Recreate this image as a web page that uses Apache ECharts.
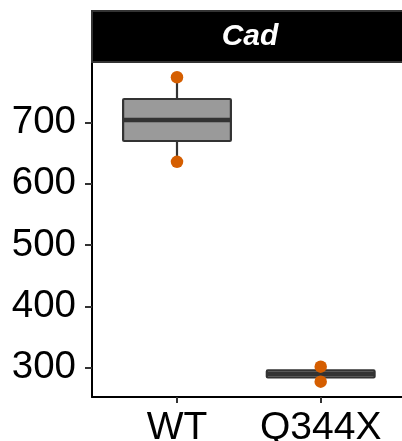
<!DOCTYPE html>
<html>
<head>
<meta charset="utf-8">
<script src="https://cdn.jsdelivr.net/npm/echarts@6/dist/echarts.min.js"></script>
<style>html,body{margin:0;padding:0;background:#fff;}#c{width:402px;height:441px;}</style>
</head>
<body>
<div id="c"></div>
<script>
var categories = ['WT', 'Q344X'];
// [min, Q1, median, Q3, max]
var boxStats = [
  [635.5, 669.5, 703.7, 738.0, 773.4],
  [277.2, 284.0, 289.6, 295.5, 301.6]
];
var pointValues = [
  [773.4, 635.5],
  [301.6, 277.2]
];
var yTicks = [300, 400, 500, 600, 700];
var panelTitle = 'Cad';

var FONT = 'Liberation Sans, Arial, Helvetica, sans-serif';
var chart = echarts.init(document.getElementById('c'), null, {renderer: 'canvas'});

var scatterData = [];
pointValues.forEach(function (vals, i) {
  vals.forEach(function (v) { scatterData.push([categories[i], v]); });
});
var boxData = boxStats.map(function (s, i) { return [i].concat(s); });

var yMin = 252.2, yMax = 798.3;

function renderBox(params, api) {
  var x = api.value(0);
  var pMin = api.coord([x, api.value(1)]);
  var pQ1 = api.coord([x, api.value(2)]);
  var pMed = api.coord([x, api.value(3)]);
  var pQ3 = api.coord([x, api.value(4)]);
  var pMax = api.coord([x, api.value(5)]);
  var band = api.size([1, 0])[0];
  var w = band * 0.75;
  var cx = pMed[0];
  var stroke = '#333333';
  return {
    type: 'group',
    children: [
      {type: 'line', shape: {x1: cx, y1: pMax[1], x2: cx, y2: pQ3[1]}, style: {stroke: stroke, lineWidth: 2.2}},
      {type: 'line', shape: {x1: cx, y1: pQ1[1], x2: cx, y2: pMin[1]}, style: {stroke: stroke, lineWidth: 2.2}},
      {type: 'rect', shape: {x: cx - w / 2, y: pQ3[1], width: w, height: pQ1[1] - pQ3[1], r: 1},
        style: {fill: '#9a9a9a', stroke: stroke, lineWidth: 2.2}},
      {type: 'line', shape: {x1: cx - w / 2, y1: pMed[1], x2: cx + w / 2, y2: pMed[1]}, style: {stroke: stroke, lineWidth: 4.4}}
    ]
  };
}

var option = {
  animation: false,
  backgroundColor: '#ffffff',
  grid: [
    {left: 92, top: 62, width: 316.1, height: 335, outerBoundsMode: 'none', containLabel: false},
    {left: 105.15, top: 62, width: 287.4, height: 335, outerBoundsMode: 'none', containLabel: false}
  ],
  xAxis: [
    {
      gridIndex: 0, type: 'value', min: 0, max: 1,
      axisLine: {show: true, lineStyle: {color: '#000', width: 2}},
      axisTick: {show: false}, axisLabel: {show: false}, splitLine: {show: false}
    },
    {
      gridIndex: 1, type: 'category', data: categories, boundaryGap: true,
      axisLine: {show: false},
      axisTick: {show: true, alignWithLabel: true, length: 6, lineStyle: {color: '#333', width: 2}},
      axisLabel: {color: '#000', fontSize: 39, fontFamily: FONT, margin: 12, interval: 0, hideOverlap: false},
      splitLine: {show: false}
    }
  ],
  yAxis: [
    {
      gridIndex: 0, type: 'value', min: yMin, max: yMax,
      axisLine: {show: true, lineStyle: {color: '#000', width: 2}},
      axisTick: {show: true, length: 7, lineStyle: {color: '#333', width: 2}, customValues: yTicks},
      axisLabel: {color: '#000', fontSize: 38.5, fontFamily: FONT, margin: 16, customValues: yTicks},
      splitLine: {show: false}
    },
    {
      gridIndex: 1, type: 'value', min: yMin, max: yMax, show: false,
      splitLine: {show: false}
    }
  ],
  series: [
    {
      type: 'custom', xAxisIndex: 1, yAxisIndex: 1,
      data: boxData, renderItem: renderBox,
      encode: {x: 0, y: [1, 2, 3, 4, 5]}, z: 2
    },
    {
      type: 'scatter', xAxisIndex: 1, yAxisIndex: 1,
      data: scatterData, symbolSize: 12.5,
      itemStyle: {color: '#D55E00', opacity: 1}, z: 4
    }
  ],
  graphic: [
    {
      type: 'rect', shape: {x: 92, y: 11, width: 316, height: 51},
      style: {fill: '#000', stroke: '#333', lineWidth: 2}, z: 10
    },
    {
      type: 'text', x: 250, y: 37,
      style: {text: panelTitle, fill: '#fff', font: 'italic bold 30px ' + FONT, align: 'center', verticalAlign: 'middle'},
      z: 11
    }
  ]
};
chart.setOption(option);
</script>
</body>
</html>
